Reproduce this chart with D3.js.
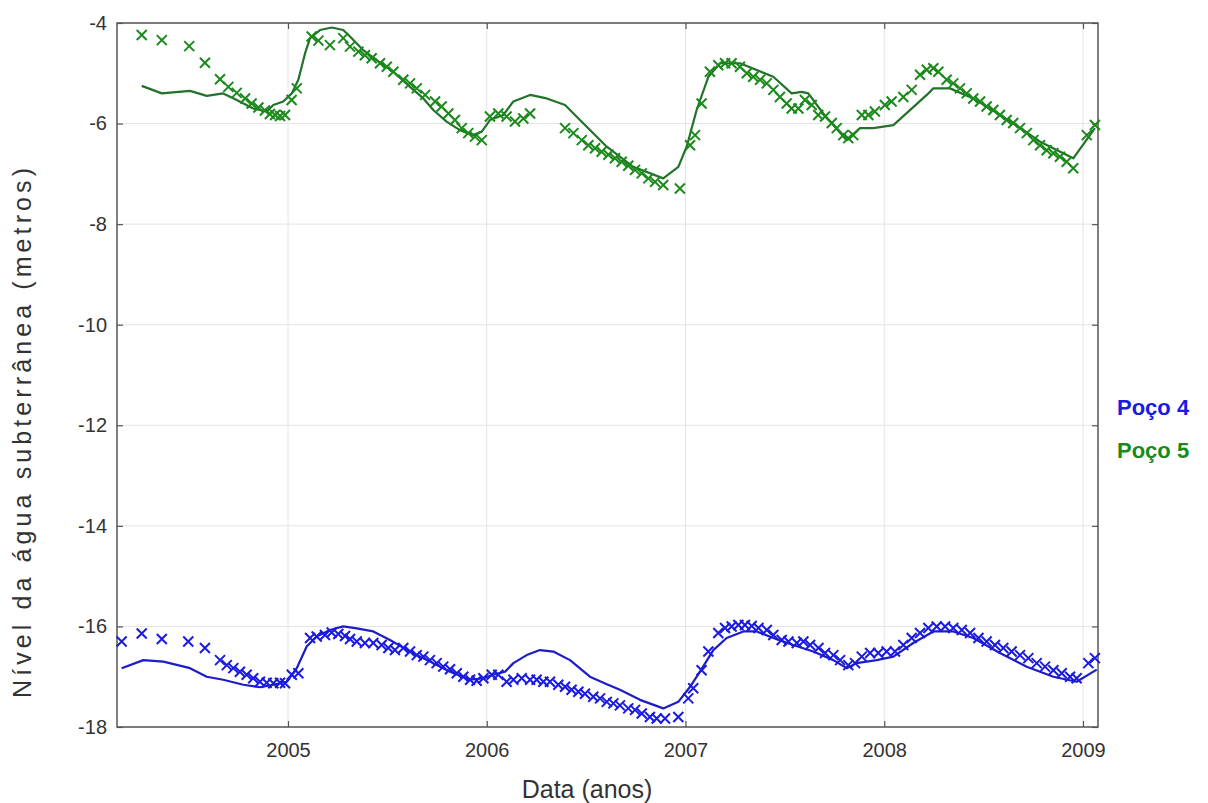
<!DOCTYPE html>
<html>
<head>
<meta charset="utf-8">
<script src="https://cdn.jsdelivr.net/npm/d3@7"></script>
<style>
  body { margin: 0; background: #fff; }
  text { font-family: "Liberation Sans", Arial, sans-serif; }
</style>
</head>
<body>
<div id="my_dataviz"></div>
<script>
// observed levels, Poço 5 (x markers)
const p5ObsYears = [2004.264, 2004.365, 2004.503, 2004.582, 2004.658, 2004.700, 2004.742, 2004.784, 2004.817, 2004.851,
  2004.884, 2004.909, 2004.935, 2004.960, 2004.985, 2005.018, 2005.044, 2005.119, 2005.153, 2005.211,
  2005.278, 2005.312, 2005.354, 2005.387, 2005.421, 2005.463, 2005.497, 2005.530, 2005.580, 2005.614,
  2005.648, 2005.690, 2005.740, 2005.773, 2005.807, 2005.840, 2005.874, 2005.907, 2005.941, 2005.975,
  2006.016, 2006.058, 2006.100, 2006.142, 2006.184, 2006.218, 2006.394, 2006.436, 2006.478, 2006.511,
  2006.545, 2006.578, 2006.612, 2006.645, 2006.679, 2006.712, 2006.746, 2006.780, 2006.813, 2006.847,
  2006.888, 2006.972, 2007.023, 2007.048, 2007.081, 2007.123, 2007.165, 2007.199, 2007.232, 2007.274,
  2007.308, 2007.341, 2007.375, 2007.409, 2007.442, 2007.475, 2007.509, 2007.534, 2007.568, 2007.601,
  2007.635, 2007.668, 2007.702, 2007.736, 2007.761, 2007.794, 2007.819, 2007.844, 2007.887, 2007.920,
  2007.953, 2008.003, 2008.037, 2008.096, 2008.138, 2008.180, 2008.214, 2008.247, 2008.272, 2008.314,
  2008.347, 2008.381, 2008.415, 2008.448, 2008.482, 2008.515, 2008.549, 2008.582, 2008.616, 2008.649,
  2008.683, 2008.717, 2008.750, 2008.784, 2008.817, 2008.851, 2008.884, 2008.918, 2008.951, 2009.019,
  2009.060];
const p5ObsLevels = [-4.24, -4.34, -4.46, -4.79, -5.12, -5.27, -5.39, -5.50, -5.60, -5.68,
  -5.74, -5.81, -5.83, -5.85, -5.83, -5.53, -5.30, -4.27, -4.35, -4.44,
  -4.30, -4.47, -4.57, -4.64, -4.70, -4.80, -4.87, -4.97, -5.13, -5.20,
  -5.30, -5.43, -5.56, -5.66, -5.80, -5.93, -6.09, -6.19, -6.26, -6.33,
  -5.86, -5.80, -5.86, -5.96, -5.90, -5.80, -6.09, -6.19, -6.33, -6.43,
  -6.49, -6.56, -6.62, -6.69, -6.76, -6.84, -6.92, -6.99, -7.09, -7.16,
  -7.22, -7.29, -6.43, -6.23, -5.60, -4.97, -4.84, -4.80, -4.80, -4.87,
  -5.00, -5.07, -5.13, -5.20, -5.33, -5.47, -5.60, -5.70, -5.70, -5.53,
  -5.63, -5.83, -5.86, -5.99, -6.09, -6.23, -6.29, -6.23, -5.83, -5.83,
  -5.76, -5.63, -5.56, -5.47, -5.33, -5.03, -4.93, -4.90, -4.97, -5.13,
  -5.20, -5.30, -5.40, -5.50, -5.56, -5.66, -5.73, -5.83, -5.93, -5.99,
  -6.09, -6.19, -6.33, -6.43, -6.53, -6.59, -6.66, -6.76, -6.89, -6.23,
  -6.03];

// simulated levels, Poço 5 (solid line)
const p5SimYears = [2004.264, 2004.365, 2004.507, 2004.591, 2004.674, 2004.742, 2004.825, 2004.893, 2004.926, 2004.976,
  2005.019, 2005.052, 2005.086, 2005.111, 2005.161, 2005.220, 2005.278, 2005.312, 2005.379, 2005.446,
  2005.530, 2005.614, 2005.681, 2005.731, 2005.798, 2005.865, 2005.932, 2005.975, 2006.016, 2006.083,
  2006.134, 2006.218, 2006.302, 2006.394, 2006.469, 2006.604, 2006.737, 2006.888, 2006.964, 2007.006,
  2007.056, 2007.115, 2007.174, 2007.274, 2007.442, 2007.534, 2007.585, 2007.618, 2007.693, 2007.811,
  2007.878, 2007.945, 2008.046, 2008.214, 2008.247, 2008.331, 2008.448, 2008.649, 2008.784, 2008.951,
  2009.060];
const p5SimLevels = [-5.25, -5.40, -5.35, -5.45, -5.40, -5.53, -5.70, -5.76, -5.63, -5.56,
  -5.40, -5.13, -4.60, -4.30, -4.14, -4.09, -4.14, -4.27, -4.54, -4.74,
  -4.97, -5.27, -5.50, -5.73, -5.96, -6.13, -6.23, -6.16, -5.93, -5.83,
  -5.56, -5.43, -5.50, -5.63, -5.93, -6.46, -6.86, -7.09, -6.86, -6.46,
  -5.73, -5.07, -4.80, -4.80, -5.07, -5.40, -5.37, -5.40, -5.80, -6.33,
  -6.09, -6.09, -6.03, -5.43, -5.30, -5.30, -5.50, -5.99, -6.36, -6.69,
  -6.09];

// observed levels, Poço 4 (x markers)
const p4ObsYears = [2004.163, 2004.264, 2004.365, 2004.498, 2004.582, 2004.658, 2004.692, 2004.725, 2004.758, 2004.792,
  2004.825, 2004.859, 2004.893, 2004.926, 2004.960, 2004.985, 2005.019, 2005.052, 2005.111, 2005.144,
  2005.186, 2005.220, 2005.253, 2005.287, 2005.312, 2005.346, 2005.387, 2005.429, 2005.471, 2005.505,
  2005.538, 2005.580, 2005.614, 2005.648, 2005.681, 2005.714, 2005.748, 2005.781, 2005.815, 2005.849,
  2005.882, 2005.916, 2005.949, 2005.983, 2006.025, 2006.058, 2006.100, 2006.134, 2006.176, 2006.218,
  2006.251, 2006.285, 2006.318, 2006.360, 2006.394, 2006.427, 2006.461, 2006.494, 2006.536, 2006.570,
  2006.604, 2006.637, 2006.670, 2006.712, 2006.746, 2006.780, 2006.821, 2006.855, 2006.897, 2006.964,
  2007.014, 2007.039, 2007.081, 2007.115, 2007.165, 2007.199, 2007.232, 2007.266, 2007.299, 2007.333,
  2007.367, 2007.409, 2007.442, 2007.484, 2007.518, 2007.560, 2007.593, 2007.627, 2007.669, 2007.702,
  2007.744, 2007.778, 2007.819, 2007.853, 2007.887, 2007.929, 2007.970, 2008.012, 2008.054, 2008.096,
  2008.138, 2008.180, 2008.222, 2008.264, 2008.306, 2008.347, 2008.390, 2008.432, 2008.474, 2008.515,
  2008.557, 2008.599, 2008.641, 2008.683, 2008.725, 2008.767, 2008.809, 2008.851, 2008.893, 2008.935,
  2008.968, 2009.027, 2009.060];
const p4ObsLevels = [-16.30, -16.14, -16.25, -16.30, -16.43, -16.67, -16.77, -16.83, -16.90, -16.96,
  -17.03, -17.10, -17.12, -17.13, -17.12, -17.13, -16.96, -16.93, -16.23, -16.20,
  -16.17, -16.12, -16.15, -16.19, -16.25, -16.30, -16.33, -16.33, -16.37, -16.43,
  -16.47, -16.43, -16.50, -16.57, -16.60, -16.67, -16.73, -16.80, -16.85, -16.93,
  -17.00, -17.06, -17.08, -17.03, -16.96, -16.96, -17.10, -17.06, -17.03, -17.06,
  -17.06, -17.10, -17.10, -17.16, -17.20, -17.26, -17.30, -17.34, -17.40, -17.43,
  -17.50, -17.53, -17.57, -17.63, -17.66, -17.73, -17.80, -17.83, -17.83, -17.80,
  -17.43, -17.23, -16.87, -16.50, -16.13, -16.03, -16.00, -15.97, -15.97, -15.99,
  -16.03, -16.07, -16.17, -16.27, -16.30, -16.33, -16.30, -16.37, -16.43, -16.53,
  -16.57, -16.67, -16.77, -16.73, -16.60, -16.53, -16.53, -16.50, -16.50, -16.37,
  -16.23, -16.13, -16.03, -16.00, -16.00, -16.03, -16.07, -16.13, -16.23, -16.30,
  -16.37, -16.43, -16.50, -16.57, -16.63, -16.73, -16.80, -16.87, -16.93, -17.00,
  -17.03, -16.73, -16.63];

// simulated levels, Poço 4 (solid line)
const p4SimYears = [2004.163, 2004.272, 2004.373, 2004.507, 2004.591, 2004.674, 2004.775, 2004.859, 2004.926, 2004.993,
  2005.044, 2005.094, 2005.144, 2005.211, 2005.278, 2005.346, 2005.429, 2005.513, 2005.614, 2005.714,
  2005.815, 2005.916, 2005.983, 2006.033, 2006.092, 2006.134, 2006.201, 2006.268, 2006.335, 2006.419,
  2006.519, 2006.604, 2006.670, 2006.771, 2006.888, 2006.964, 2007.023, 2007.073, 2007.140, 2007.207,
  2007.291, 2007.358, 2007.442, 2007.542, 2007.643, 2007.744, 2007.811, 2007.861, 2007.962, 2008.046,
  2008.146, 2008.247, 2008.347, 2008.448, 2008.582, 2008.717, 2008.851, 2008.968, 2009.069];
const p4SimLevels = [-16.83, -16.67, -16.70, -16.83, -17.00, -17.06, -17.16, -17.21, -17.16, -17.10,
  -16.83, -16.40, -16.20, -16.07, -16.00, -16.04, -16.10, -16.27, -16.50, -16.70,
  -16.90, -17.06, -17.03, -16.96, -16.90, -16.73, -16.57, -16.47, -16.50, -16.67,
  -17.00, -17.15, -17.26, -17.46, -17.63, -17.50, -17.20, -16.90, -16.47, -16.23,
  -16.10, -16.10, -16.23, -16.37, -16.50, -16.67, -16.83, -16.73, -16.67, -16.60,
  -16.33, -16.10, -16.10, -16.23, -16.53, -16.80, -17.00, -17.10, -16.86];

const yearTicks = [2005, 2006, 2007, 2008, 2009];
const levelTicks = [-18, -16, -14, -12, -10, -8, -6, -4];
const legendLabels = ["Poço 4", "Poço 5"];

const width = 1208, height = 803;
const margin = {top: 23, right: 110, bottom: 76, left: 117};
const w = width - margin.left - margin.right;
const h = height - margin.top - margin.bottom;

const svg = d3.select("#my_dataviz")
              .append("svg")
                .attr("width", width)
                .attr("height", height);

const g = svg.append("g")
             .attr("transform", `translate(${margin.left},${margin.top})`);

const x = d3.scaleLinear()
            .domain([2004.1396, 2009.0755])
            .range([0, w]);

const y = d3.scaleLinear()
            .domain([-18, -4])
            .range([h, 0]);

// grid
g.append("g").selectAll("line")
  .data(yearTicks)
  .join("line")
    .attr("x1", d => x(d)).attr("x2", d => x(d))
    .attr("y1", 0).attr("y2", h)
    .attr("stroke", "#e4e4e4").attr("stroke-width", 1);

g.append("g").selectAll("line")
  .data(levelTicks)
  .join("line")
    .attr("x1", 0).attr("x2", w)
    .attr("y1", d => y(d)).attr("y2", d => y(d))
    .attr("stroke", "#e4e4e4").attr("stroke-width", 1);

// axes, ticks pointing inward like matlab
const axisStyle = sel => {
  sel.select(".domain").remove();
  sel.selectAll(".tick line").attr("stroke", "#555").attr("stroke-width", 1.2);
  sel.selectAll(".tick text")
     .attr("fill", "#333")
     .style("font-size", "20px");
};

g.append("g")
  .attr("transform", `translate(0,${h})`)
  .call(d3.axisBottom(x).tickValues(yearTicks).tickFormat(d => String(d))
          .tickSizeInner(-6).tickPadding(16))
  .call(axisStyle);

g.append("g")
  .call(d3.axisTop(x).tickValues(yearTicks).tickFormat("").tickSizeInner(-6))
  .call(axisStyle);

g.append("g")
  .call(d3.axisLeft(y).tickValues(levelTicks).tickFormat(d => String(d))
          .tickSizeInner(-6).tickPadding(10))
  .call(axisStyle);

g.append("g")
  .attr("transform", `translate(${w},0)`)
  .call(d3.axisRight(y).tickValues(levelTicks).tickFormat("").tickSizeInner(-6))
  .call(axisStyle);

g.append("rect")
  .attr("width", w).attr("height", h)
  .attr("fill", "none")
  .attr("stroke", "#555").attr("stroke-width", 1.5);

const line = d3.line()
  .x(d => x(d[0]))
  .y(d => y(d[1]));

const series = [
  {obsX: p4ObsYears, obsY: p4ObsLevels, simX: p4SimYears, simY: p4SimLevels, mark: "#1a1ae0", line: "#1c1cc8"},
  {obsX: p5ObsYears, obsY: p5ObsLevels, simX: p5SimYears, simY: p5SimLevels, mark: "#1a8a1a", line: "#22722a"}
];

const cross = 5;
series.forEach(s => {
  g.append("path")
    .datum(d3.zip(s.simX, s.simY))
    .attr("fill", "none")
    .attr("stroke", s.line)
    .attr("stroke-width", 2.2)
    .attr("stroke-linejoin", "round")
    .attr("d", line);

  g.append("g").selectAll("path")
    .data(d3.zip(s.obsX, s.obsY))
    .join("path")
      .attr("transform", d => `translate(${x(d[0])},${y(d[1])})`)
      .attr("d", `M${-cross},${-cross}L${cross},${cross}M${-cross},${cross}L${cross},${-cross}`)
      .attr("stroke", s.mark)
      .attr("stroke-width", 2);
});

// labels
svg.append("text")
  .attr("x", 587)
  .attr("y", 798)
  .attr("text-anchor", "middle")
  .attr("fill", "#333")
  .style("font-size", "25px")
  .text("Data (anos)");

svg.append("text")
  .attr("transform", "translate(31,433) rotate(-90)")
  .attr("text-anchor", "middle")
  .attr("fill", "#333")
  .attr("textLength", 530)
  .attr("lengthAdjust", "spacing")
  .style("font-size", "25px")
  .text("Nível da água subterrânea  (metros)");

svg.selectAll(".legend")
  .data(legendLabels)
  .join("text")
    .attr("class", "legend")
    .attr("x", 1117)
    .attr("y", (d, i) => 415 + i * 43)
    .attr("fill", (d, i) => i === 0 ? "#1a1ae0" : "#1a8a1a")
    .style("font-size", "22px")
    .style("font-weight", "bold")
    .text(d => d);
</script>
</body>
</html>
